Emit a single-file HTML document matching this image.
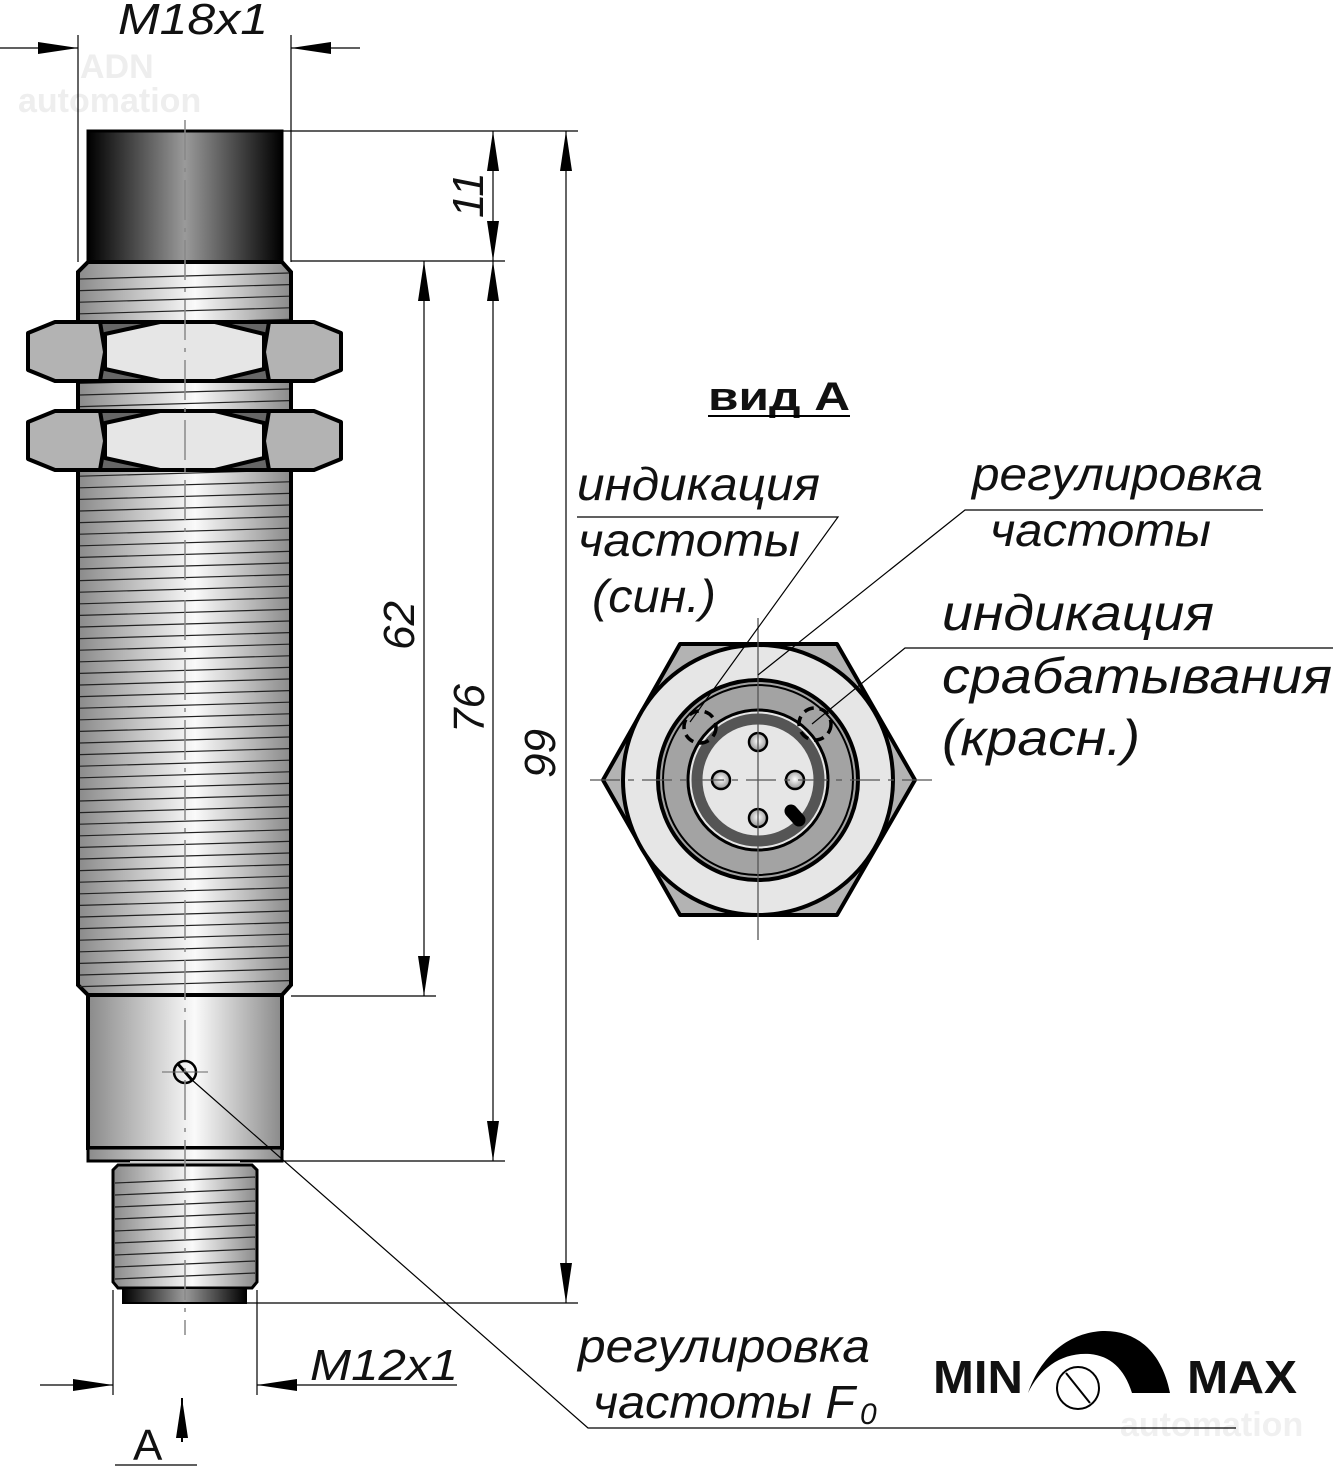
<!DOCTYPE html>
<html><head><meta charset="utf-8"><style>
html,body{margin:0;padding:0;background:#fff}
svg{display:block}
text{font-family:"Liberation Sans Narrow","Liberation Sans",sans-serif;font-style:italic;fill:#111}
.b{font-family:"Liberation Sans",sans-serif;font-style:normal;font-weight:bold}
</style></head><body>
<svg id="s" width="1333" height="1467" viewBox="0 0 1333 1467" xmlns="http://www.w3.org/2000/svg">
<defs>
<linearGradient id="gb" x1="0" x2="1" y1="0" y2="0">
<stop offset="0" stop-color="#8a8a8a"/><stop offset="0.55" stop-color="#fafafa"/><stop offset="1" stop-color="#8a8a8a"/></linearGradient>
<linearGradient id="gh" x1="0" x2="1" y1="0" y2="0">
<stop offset="0" stop-color="#000"/><stop offset="0.5" stop-color="#9a9a9a"/><stop offset="1" stop-color="#000"/></linearGradient>
<radialGradient id="gp" cx="0.5" cy="0.45" r="0.6"><stop offset="0" stop-color="#fff"/><stop offset="1" stop-color="#888"/></radialGradient>
<marker id="ar" viewBox="0 0 40 12" refX="40" refY="6" markerWidth="40" markerHeight="12" markerUnits="userSpaceOnUse" orient="auto-start-reverse"><path d="M0,0 L40,6 L0,12 z" fill="#000"/></marker>
</defs>

<text x="80" y="78" class="b" font-size="34" style="fill:#eee">ADN</text>
<text x="18" y="112" class="b" font-size="34" style="fill:#eee">automation</text>
<text x="1120" y="1436" class="b" font-size="34" style="fill:#f0f0f0">automation</text>

<rect x="88" y="131" width="194" height="131" fill="url(#gh)" stroke="#000" stroke-width="3"/>
<path d="M88,262 L282,262 L291,272 L291,985 L282,995 L88,995 L78,985 L78,272 Z" fill="url(#gb)" stroke="#000" stroke-width="4"/>
<g id="thr" stroke="#222" stroke-width="1.2"></g>
<g id="nuts" stroke="#000" stroke-width="4" stroke-linejoin="round"></g>
<rect x="88" y="995" width="194" height="153" fill="url(#gb)" stroke="#000" stroke-width="4"/>
<rect x="88" y="1148" width="194" height="13" fill="url(#gb)" stroke="#000" stroke-width="3"/>
<rect x="130" y="1161" width="110" height="5" fill="#ccc"/>
<path d="M118,1165 L252,1165 L257,1170 L257,1282 L252,1288 L118,1288 L113,1282 L113,1170 Z" fill="url(#gb)" stroke="#000" stroke-width="3"/>
<g id="thr2" stroke="#222" stroke-width="1.2"></g>
<rect x="123" y="1288" width="123" height="15" fill="url(#gh)" stroke="#000" stroke-width="2"/>
<circle cx="185" cy="1072" r="11" fill="none" stroke="#000" stroke-width="2.5"/>
<line x1="178" y1="1064" x2="192" y2="1080" stroke="#000" stroke-width="3"/>
<line x1="162" y1="1072" x2="208" y2="1072" stroke="#666" stroke-width="1"/>
<line x1="185" y1="120" x2="185" y2="1335" stroke="#888" stroke-width="1.5" stroke-dasharray="40,8,4,8"/>

<g stroke="#000" stroke-width="1.2" fill="none">
<line x1="78" y1="35" x2="78" y2="262"/><line x1="291" y1="35" x2="291" y2="262"/>
<line x1="0" y1="48" x2="78" y2="48" marker-end="url(#ar)"/>
<line x1="360" y1="48" x2="291" y2="48" marker-end="url(#ar)"/>
<line x1="282" y1="131" x2="578" y2="131"/>
<line x1="291" y1="261" x2="505" y2="261"/>
<line x1="291" y1="996" x2="436" y2="996"/>
<line x1="282" y1="1161" x2="505" y2="1161"/>
<line x1="246" y1="1303" x2="578" y2="1303"/>
<line x1="493" y1="131" x2="493" y2="261" marker-start="url(#ar)" marker-end="url(#ar)"/>
<line x1="424" y1="261" x2="424" y2="996" marker-start="url(#ar)" marker-end="url(#ar)"/>
<line x1="493" y1="261" x2="493" y2="1161" marker-start="url(#ar)" marker-end="url(#ar)"/>
<line x1="566" y1="131" x2="566" y2="1303" marker-start="url(#ar)" marker-end="url(#ar)"/>
<line x1="113" y1="1290" x2="113" y2="1395"/><line x1="257" y1="1290" x2="257" y2="1395"/>
<line x1="40" y1="1385" x2="113" y2="1385" marker-end="url(#ar)"/>
<line x1="303" y1="1385" x2="257" y2="1385" marker-end="url(#ar)"/>
<line x1="303" y1="1385" x2="457" y2="1385"/>
<line x1="182" y1="1442" x2="182" y2="1398" stroke-width="2" marker-end="url(#ar)"/>
<line x1="115" y1="1465" x2="197" y2="1465"/>
<polyline points="192,1080 588,1428 1236,1428"/>
</g>
<text x="118" y="34" font-size="44" textLength="150" lengthAdjust="spacingAndGlyphs">M18x1</text>
<text x="310" y="1380" font-size="44" textLength="148" lengthAdjust="spacingAndGlyphs">M12x1</text>
<text x="133" y="1460" font-size="44" style="font-style:normal;font-family:'Liberation Sans',sans-serif">A</text>
<text transform="translate(483,218) rotate(-90)" font-size="44">11</text>
<text transform="translate(414,650) rotate(-90)" font-size="44">62</text>
<text transform="translate(484,733) rotate(-90)" font-size="44">76</text>
<text transform="translate(555,778) rotate(-90)" font-size="44">99</text>

<text x="708" y="410" class="b" font-size="40" textLength="142" lengthAdjust="spacingAndGlyphs">вид А</text>
<line x1="708" y1="416" x2="850" y2="416" stroke="#000" stroke-width="2"/>

<polygon points="680,644 837,644 915,780 837,915 680,915 603,780" fill="#b3b3b3" stroke="#000" stroke-width="4" stroke-linejoin="round"/>
<circle cx="758" cy="780" r="135" fill="#e6e6e6" stroke="#000" stroke-width="4"/>
<circle cx="758" cy="780" r="100" fill="#a3a3a3" stroke="#000" stroke-width="4"/>
<circle cx="758" cy="780" r="95" fill="none" stroke="#000" stroke-width="2"/>
<circle cx="758" cy="780" r="70" fill="#e6e6e6" stroke="#000" stroke-width="3"/>
<circle cx="758" cy="780" r="61" fill="none" stroke="#555" stroke-width="11"/>
<g fill="url(#gp)" stroke="#000" stroke-width="2.5">
<circle cx="758" cy="742" r="9"/><circle cx="721" cy="780" r="9"/><circle cx="795" cy="780" r="9"/><circle cx="758" cy="818" r="9"/></g>
<line x1="791" y1="811" x2="799" y2="820" stroke="#000" stroke-width="13" stroke-linecap="round"/>
<g fill="none" stroke="#000" stroke-width="3.5" stroke-dasharray="10,6">
<circle cx="700" cy="727" r="16"/><circle cx="815" cy="724" r="16"/></g>
<g stroke="#555" stroke-width="1.3">
<line x1="590" y1="780" x2="935" y2="780" stroke-dasharray="30,8,6,8"/>
<line x1="758" y1="618" x2="758" y2="940"/></g>
<g stroke="#000" stroke-width="1.2" fill="none">
<polyline points="577,517 838,517 690,722"/>
<polyline points="1263,510 965,510 758,675"/>
<polyline points="1333,648 905,648 812,724"/>
</g>
<text x="577" y="500" font-size="46" textLength="243" lengthAdjust="spacingAndGlyphs">индикация</text>
<text x="578" y="556" font-size="46" textLength="222" lengthAdjust="spacingAndGlyphs">частоты</text>
<text x="592" y="612" font-size="46" textLength="124" lengthAdjust="spacingAndGlyphs">(син.)</text>
<text x="972" y="490" font-size="46" textLength="291" lengthAdjust="spacingAndGlyphs">регулировка</text>
<text x="990" y="546" font-size="46" textLength="221" lengthAdjust="spacingAndGlyphs">частоты</text>
<text x="942" y="630" font-size="50" textLength="272" lengthAdjust="spacingAndGlyphs">индикация</text>
<text x="942" y="693" font-size="50" textLength="390" lengthAdjust="spacingAndGlyphs">срабатывания</text>
<text x="942" y="755" font-size="50" textLength="198" lengthAdjust="spacingAndGlyphs">(красн.)</text>
<text x="578" y="1362" font-size="46" textLength="292" lengthAdjust="spacingAndGlyphs">регулировка</text>
<text x="593" y="1418" font-size="46" textLength="262" lengthAdjust="spacingAndGlyphs">частоты F</text>
<text x="860" y="1424" font-size="30">0</text>

<text x="933" y="1393" class="b" font-size="46" textLength="90" lengthAdjust="spacingAndGlyphs">MIN</text>
<text x="1187" y="1393" class="b" font-size="46" textLength="110" lengthAdjust="spacingAndGlyphs">MAX</text>
<path d="M1028,1393 C1045,1345 1080,1331 1105,1331 C1137,1331 1162,1352 1170,1393 L1132,1393 C1124,1368 1110,1356 1090,1354 C1062,1352 1040,1368 1028,1393 Z" fill="#000"/>
<circle cx="1078" cy="1388" r="21" fill="none" stroke="#000" stroke-width="2"/>
<line x1="1066" y1="1373" x2="1090" y2="1403" stroke="#000" stroke-width="2"/>
</svg>
<script>
(function(){
var ns="http://www.w3.org/2000/svg";
function L(g,x1,y1,x2,y2){var l=document.createElementNS(ns,"line");l.setAttribute("x1",x1);l.setAttribute("y1",y1);l.setAttribute("x2",x2);l.setAttribute("y2",y2);g.appendChild(l);}
var t=document.getElementById("thr");
for(var y=276;y<985;y+=11.6){L(t,80,y+3,289,y-3);}
var t2=document.getElementById("thr2");
for(var y=1180;y<1284;y+=12){L(t2,115,y+3,255,y-3);}
var n=document.getElementById("nuts");
function nut(y0){
 var y1=y0+59,ym=y0+30;
 var p=function(pts,f){var e=document.createElementNS(ns,"polygon");e.setAttribute("points",pts);e.setAttribute("fill",f);n.appendChild(e);};
 p("78,"+y0+" 291,"+y0+" 291,"+y1+" 78,"+y1,"#666");
 p("28,"+(y0+11)+" 55,"+y0+" 100,"+y0+" 105,"+ym+" 100,"+y1+" 55,"+y1+" 28,"+(y1-11),"#b3b3b3");
 p("341,"+(y0+11)+" 314,"+y0+" 269,"+y0+" 264,"+ym+" 269,"+y1+" 314,"+y1+" 341,"+(y1-11),"#b3b3b3");
 p("105,"+(y0+12)+" 160,"+y0+" 215,"+y0+" 264,"+(y0+12)+" 264,"+(y1-12)+" 215,"+y1+" 160,"+y1+" 105,"+(y1-12),"#e6e6e6");
}
nut(322);nut(411);
})();
</script>
</body></html>
